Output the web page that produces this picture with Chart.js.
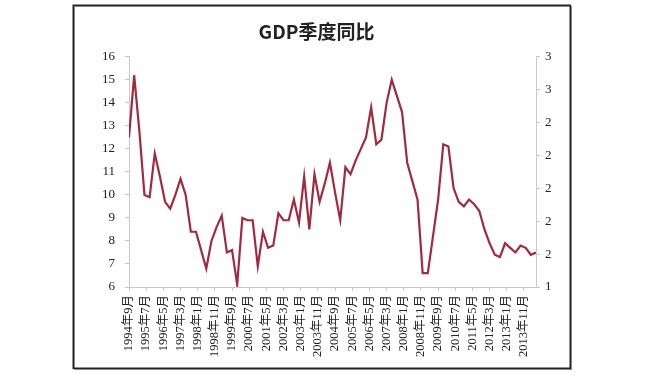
<!DOCTYPE html>
<html><head><meta charset="utf-8">
<script src="https://cdn.jsdelivr.net/npm/chart.js@4"></script>
<style>html,body{margin:0;padding:0;background:#fff}#wrap{position:relative;width:647px;height:379px}</style>
</head><body><div id="wrap"><canvas id="c" width="647" height="379"></canvas></div>
<script>
// Quarterly GDP YoY (%), 1994Q3 .. 2014Q2
const gdp = [
  12.5, 15.2,
  12.8, 10.0, 9.9, 11.8,
  10.8, 9.7, 9.4, 10.0,
  10.7, 10.0, 8.4, 8.4,
  7.6, 6.8, 8.0, 8.6,
  9.1, 7.5, 7.6, 6.1,
  9.0, 8.9, 8.9, 6.9,
  8.4, 7.7, 7.8, 9.2,
  8.9, 8.9, 9.8, 8.8,
  10.8, 8.5, 10.9, 9.7,
  10.5, 11.4, 10.1, 8.9,
  11.2, 10.9, 11.5, 12.0,
  12.5, 13.8, 12.2, 12.4,
  14.0, 15.0, 14.3, 13.6,
  11.4, 10.6, 9.8, 6.6,
  6.6, 8.2, 9.8, 12.2,
  12.1, 10.3, 9.7, 9.5,
  9.8, 9.6, 9.3, 8.5,
  7.9, 7.4, 7.3, 7.9,
  7.7, 7.5, 7.8, 7.7,
  7.4, 7.5
];
const tickLabels = ['1994年9月','1995年7月','1996年5月','1997年3月','1998年1月','1998年11月',
  '1999年9月','2000年7月','2001年5月','2002年3月','2003年1月','2003年11月','2004年9月',
  '2005年7月','2006年5月','2007年3月','2008年1月','2008年11月','2009年9月','2010年7月',
  '2011年5月','2012年3月','2013年1月','2013年11月'];
const leftTicks = [6, 16];
const rightTickLabels = ['1','2','2','2','2','2','3','3'];
const titleText = 'GDP季度同比';

// x = months since 1994-09 (quarter i -> 3*i months)
const points = gdp.map((v, i) => ({x: i * 3, y: v}));

const serif = "'Liberation Serif', 'DejaVu Serif', 'Noto Sans CJK SC', serif";
const axisColor = '#c8c8c8';

const framePlugin = {
  id: 'frame',
  beforeDraw(chart) {
    const c = chart.ctx;
    c.save();
    c.fillStyle = '#fff';
    c.fillRect(0, 0, chart.width, chart.height);
    c.strokeStyle = '#888';
    c.lineWidth = 1;
    c.strokeRect(74.5, 6.5, 497, 363);
    c.strokeStyle = '#222';
    c.lineWidth = 1.5;
    c.strokeRect(73.25, 5.25, 497, 363);
    c.restore();
  }
};

new Chart(document.getElementById('c'), {
  type: 'line',
  data: {
    datasets: [{
      data: points,
      borderColor: '#a02a40',
      borderWidth: 2.2,
      pointRadius: 0,
      tension: 0,
      fill: false,
      xAxisID: 'x',
      yAxisID: 'y'
    }]
  },
  options: {
    responsive: false,
    animation: false,
    layout: {padding: {left: 60, right: 74, top: 0, bottom: 12}},
    plugins: {
      legend: {display: false},
      tooltip: {enabled: false},
      title: {
        display: true,
        text: titleText,
        color: '#222',
        font: {family: "'Noto Sans CJK SC', 'Noto Sans', sans-serif", size: 19, weight: 'bold'},
        padding: {top: 20, bottom: 14}
      }
    },
    scales: {
      x: {
        type: 'linear',
        position: 'bottom',
        min: 0,
        max: 237,
        afterFit(s) { s.height = 80; },
        border: {display: true, color: axisColor, width: 1},
        grid: {display: true, drawOnChartArea: false, drawTicks: true, tickLength: 4, color: axisColor},
        ticks: {
          stepSize: 10,
          includeBounds: false,
          autoSkip: false,
          minRotation: 90,
          maxRotation: 90,
          padding: 4,
          color: '#222',
          font: {family: serif, size: 12.5},
          callback: (v) => (v % 10 === 0 ? tickLabels[v / 10] : '')
        }
      },
      y: {
        position: 'left',
        min: leftTicks[0],
        max: leftTicks[1],
        afterFit(s) { s.width = 69; },
        border: {display: true, color: axisColor, width: 1},
        grid: {display: true, drawOnChartArea: false, tickLength: 4, color: axisColor},
        ticks: {stepSize: 1, padding: 10, color: '#222', font: {family: serif, size: 13}}
      },
      y2: {
        position: 'right',
        min: 0,
        max: rightTickLabels.length - 1,
        afterFit(s) { s.width = 37; },
        border: {display: true, color: axisColor, width: 1},
        grid: {display: true, drawOnChartArea: false, tickLength: 4, color: axisColor},
        ticks: {stepSize: 1, padding: 5, color: '#222', font: {family: serif, size: 13},
          callback: (v) => rightTickLabels[v]}
      }
    }
  },
  plugins: [framePlugin]
});
</script>
</body></html>
